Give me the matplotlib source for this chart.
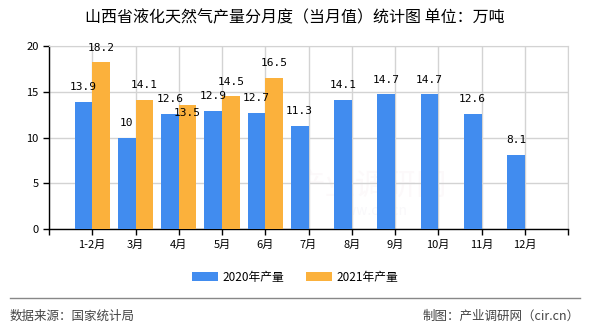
import matplotlib
matplotlib.use('Agg')
import matplotlib.pyplot as plt
import numpy as np

plt.rcParams['font.family'] = ['Noto Sans CJK SC', 'DejaVu Sans']
plt.rcParams['axes.unicode_minus'] = False

# 山西省液化天然气产量（当月值，万吨）
months = ['1-2月', '3月', '4月', '5月', '6月', '7月', '8月', '9月', '10月', '11月', '12月']
output_2020 = [13.9, 10, 12.6, 12.9, 12.7, 11.3, 14.1, 14.7, 14.7, 12.6, 8.1]
output_2021 = [18.2, 14.1, 13.5, 14.5, 16.5]
yticks = [0, 5, 10, 15, 20]

blue = '#418cef'
orange = '#fbb13c'

fig = plt.figure(figsize=(5.9, 3.3), dpi=100)
ax = fig.add_axes([49 / 590, 1 - 229 / 330, 519 / 590, 183 / 330])

x = np.arange(1, len(months) + 1)
w = 0.41
b1 = ax.bar(x - w / 2, output_2020, w, color=blue, label='2020年产量', zorder=3)
b2 = ax.bar(np.arange(1, len(output_2021) + 1) + w / 2, output_2021, w,
            color=orange, label='2021年产量', zorder=3)

# 数值标签
for rect, v in zip(b1, output_2020):
    ax.annotate(f'{v:g}', (rect.get_x() + rect.get_width() / 2, v),
                xytext=(0, 7), textcoords='offset points',
                ha='center', va='bottom', fontsize=8, family='DejaVu Sans Mono')
for i, (rect, v) in enumerate(zip(b2, output_2021)):
    dy = 7
    va = 'bottom'
    if i == 2:  # 4月标签与2020年标签重叠，放到柱顶下方
        dy = -2
        va = 'top'
    ax.annotate(f'{v:g}', (rect.get_x() + rect.get_width() / 2, v),
                xytext=(0, dy), textcoords='offset points',
                ha='center', va=va, fontsize=8, family='DejaVu Sans Mono', zorder=4)

ax.set_xlim(0, len(months) + 1)
ax.set_ylim(0, 20)
ax.set_yticks(yticks)
ax.set_xticks(np.arange(0, len(months) + 2))
ax.set_xticklabels([''] + months + [''])
ax.tick_params(axis='both', labelsize=8, length=4, width=1, colors='black')
ax.grid(True, color='#d3d3d3', linewidth=1, zorder=0)
for s in ['top', 'right']:
    ax.spines[s].set_color('#d3d3d3')
for s in ['left', 'bottom']:
    ax.spines[s].set_color('black')
    ax.spines[s].set_linewidth(1)

# 水印
ax.text(0.62, 0.23, '产业调研网', transform=ax.transAxes, fontsize=22,
        color='#f7eef1', alpha=0.35, ha='center', va='center', zorder=1)
ax.text(0.62, 0.1, 'www.cir.cn', transform=ax.transAxes, fontsize=10,
        color='#f0eef4', alpha=0.4, ha='center', va='center', zorder=1)

fig.text(0.5, 1 - 18 / 330, '山西省液化天然气产量分月度（当月值）统计图 单位：万吨',
         ha='center', va='center', fontsize=11.5)

fig.legend(handles=[b1, b2], loc='center', bbox_to_anchor=(0.5, 1 - 277 / 330),
           ncol=2, frameon=False, fontsize=8.5, handlelength=2.2, handleheight=0.9,
           columnspacing=1.8, handletextpad=0.4)

fig.add_artist(plt.Line2D([10 / 590, 580 / 590], [1 - 298 / 330, 1 - 298 / 330],
                          color='#888888', linewidth=1))
fig.text(10 / 590, 1 - 316 / 330, '数据来源：国家统计局', ha='left', va='center',
         fontsize=9, color='#444444')
fig.text(580 / 590, 1 - 316 / 330, '制图：产业调研网（cir.cn）', ha='right', va='center',
         fontsize=9, color='#444444')

fig.savefig('out.png', dpi=100)
